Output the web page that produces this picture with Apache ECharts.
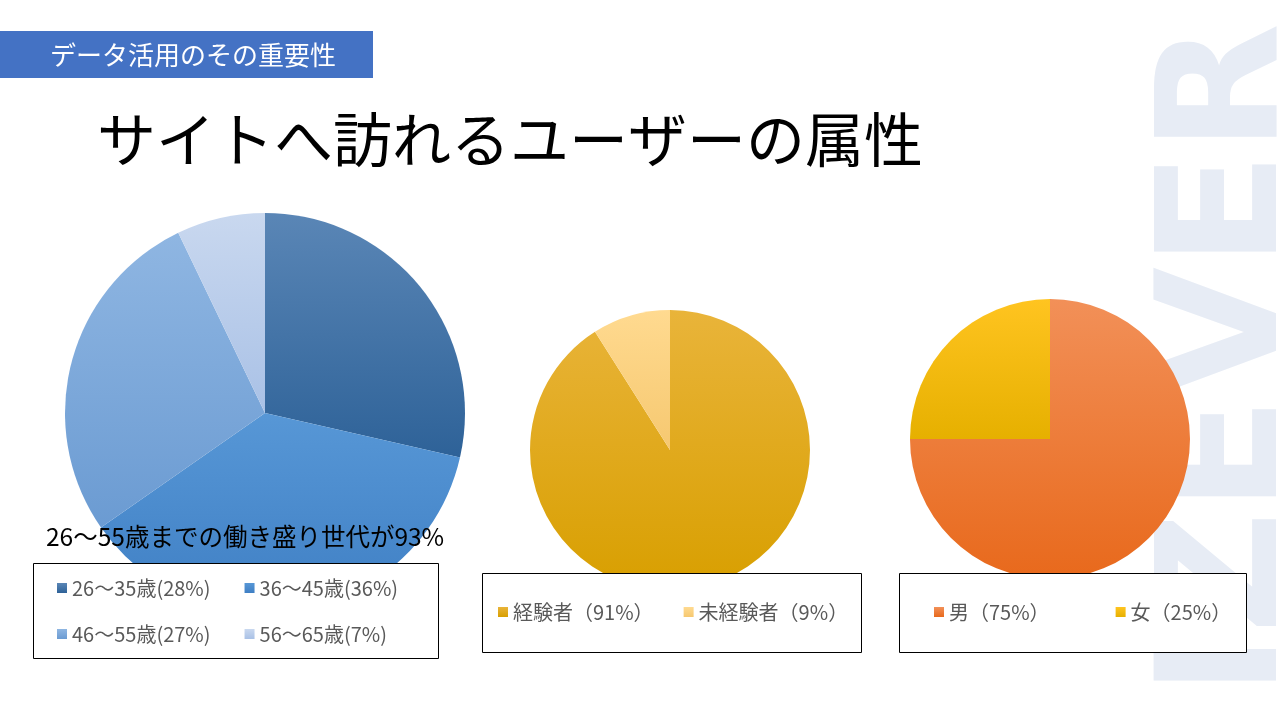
<!DOCTYPE html>
<html>
<head>
<meta charset="utf-8">
<title>サイトへ訪れるユーザーの属性</title>
<script src="https://cdn.jsdelivr.net/npm/echarts@6/dist/echarts.min.js"></script>
<style>
  html, body { margin: 0; padding: 0; background: #fff; }
  #main { width: 1280px; height: 720px; }
</style>
</head>
<body>
<div id="main"></div>
<script>
var ageNames = ['26〜35歳(28%)', '36〜45歳(36%)', '46〜55歳(27%)', '56〜65歳(7%)'];
var ageValues = [28, 36, 27, 7];
var expNames = ['経験者（91%）', '未経験者（9%）'];
var expValues = [91, 9];
var sexNames = ['男（75%）', '女（25%）'];
var sexValues = [75, 25];

var FONT = '"Noto Sans CJK JP", sans-serif';

function grad(top, bottom) {
    return new echarts.graphic.LinearGradient(0, 0, 0, 1, [
        {offset: 0, color: top}, {offset: 1, color: bottom}
    ]);
}
var ageColors = [grad('#5a86b6', '#2e6298'), grad('#5797d6', '#3f7fc4'),
                 grad('#8fb6e2', '#6b9bd2'), grad('#c9d8ef', '#a9c1e6')];
var expColors = [grad('#e9b43a', '#d89f00'), grad('#ffda90', '#f6c870')];
var sexColors = [grad('#f29058', '#e8691c'), grad('#ffc420', '#e6b000')];

function build(names, values, colors) {
    return names.map(function (n, i) {
        return {name: n, value: values[i], itemStyle: {color: colors[i]}};
    });
}

var legendText = {fontFamily: FONT, fontSize: 20, color: '#595959'};
function legend(data, left, top, gap) {
    return {
        data: data, left: left, top: top, orient: 'horizontal', itemGap: gap,
        icon: 'rect', itemWidth: 10, itemHeight: 10, selectedMode: false,
        textStyle: legendText, z: 20
    };
}

var chart = echarts.init(document.getElementById('main'));
chart.setOption({
    animation: false,
    legend: [
        legend(ageNames.slice(0, 2), 52, 573, 34),
        legend(ageNames.slice(2, 4), 52, 619, 34),
        legend(expNames, 493, 597, 30),
        legend(sexNames, 929, 597, 66)
    ],
    series: [
        {type: 'pie', radius: 200, center: [265, 413], startAngle: 90, clockwise: true,
         label: {show: false}, labelLine: {show: false}, silent: true, z: 2,
         data: build(ageNames, ageValues, ageColors)},
        {type: 'pie', radius: 140, center: [670, 450], startAngle: 90, clockwise: true,
         label: {show: false}, labelLine: {show: false}, silent: true, z: 2,
         data: build(expNames, expValues, expColors)},
        {type: 'pie', radius: 140, center: [1050, 439], startAngle: 90, clockwise: true,
         label: {show: false}, labelLine: {show: false}, silent: true, z: 2,
         data: build(sexNames, sexValues, sexColors)}
    ],
    graphic: [
        {type: 'text', z: 0, rotation: Math.PI / 2, x: 1148, y: 696,
         style: {text: 'IZEVER', font: 'bold 168px "DejaVu Sans", sans-serif',
                 fill: '#e7ecf5', textVerticalAlign: 'top'}},
        {type: 'rect', z: 10, shape: {x: 0, y: 31, width: 373, height: 47}, style: {fill: '#4472c4'}},
        {type: 'text', z: 11, x: 50, y: 55,
         style: {text: 'データ活用のその重要性', font: '26px ' + FONT, fill: '#fff', textVerticalAlign: 'middle'}},
        {type: 'text', z: 11, x: 97, y: 140,
         style: {text: 'サイトへ訪れるユーザーの属性', font: '59px ' + FONT, fill: '#000', textVerticalAlign: 'middle'}},
        {type: 'rect', z: 10, shape: {x: 33.5, y: 563.5, width: 405, height: 95},
         style: {fill: '#fff', stroke: '#000', lineWidth: 1}},
        {type: 'rect', z: 10, shape: {x: 482.5, y: 573.5, width: 379, height: 79},
         style: {fill: '#fff', stroke: '#000', lineWidth: 1}},
        {type: 'rect', z: 10, shape: {x: 899.5, y: 573.5, width: 347, height: 79},
         style: {fill: '#fff', stroke: '#000', lineWidth: 1}},
        {type: 'text', z: 11, x: 46, y: 537,
         style: {text: '26〜55歳までの働き盛り世代が93%', font: '24.5px ' + FONT, fill: '#000', textVerticalAlign: 'middle'}}
    ]
});
</script>
</body>
</html>
